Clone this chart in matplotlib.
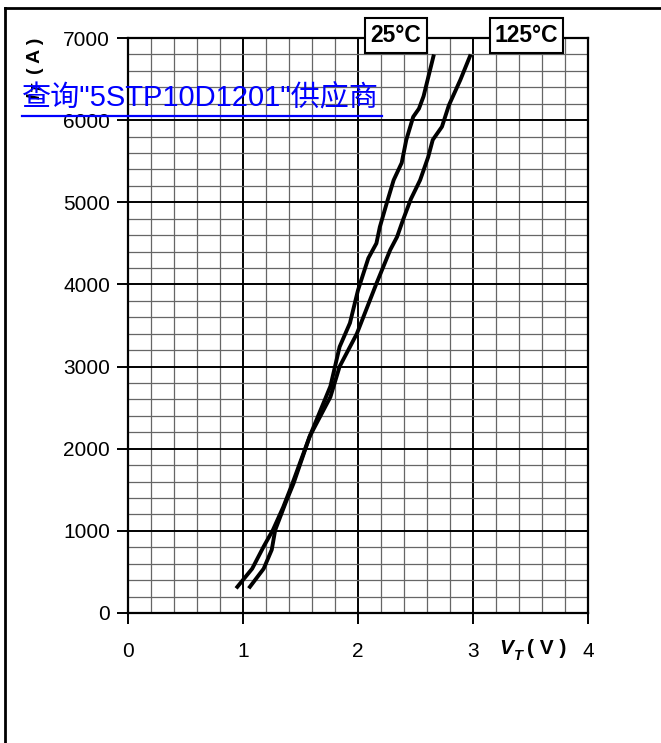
import numpy as np
import matplotlib.pyplot as plt
from matplotlib.patches import Rectangle
from matplotlib.lines import Line2D

plt.rcParams['font.family'] = ['Liberation Sans', 'Noto Sans CJK SC', 'DejaVu Sans']

# on-state voltage (V) vs current (A)
v_25 = [1.05, 1.18, 1.25, 1.28, 1.37, 1.44, 1.58, 1.76, 1.84, 1.93, 2.00, 2.09,
        2.16, 2.19, 2.25, 2.31, 2.35, 2.38, 2.42, 2.48, 2.53, 2.57, 2.66]
i_25 = [300, 540, 770, 1010, 1340, 1580, 2150, 2760, 3240, 3530, 3930, 4320,
        4500, 4700, 4990, 5270, 5390, 5480, 5760, 6040, 6140, 6290, 6800]
v_125 = [0.94, 1.08, 1.18, 1.26, 1.35, 1.42, 1.58, 1.76, 1.84, 1.99, 2.16, 2.28,
         2.34, 2.39, 2.46, 2.54, 2.61, 2.65, 2.73, 2.79, 2.89, 2.98]
i_125 = [300, 540, 810, 1010, 1290, 1540, 2150, 2630, 3000, 3400, 4010, 4420,
         4580, 4780, 5040, 5270, 5550, 5760, 5920, 6180, 6490, 6800]

x_ticks = [0, 1, 2, 3, 4]
y_ticks = [0, 1000, 2000, 3000, 4000, 5000, 6000, 7000]
labels = ['25°C', '125°C']
watermark = '查询"5STP10D1201"供应商'

W, H = 661, 743
fig = plt.figure(figsize=(W / 100, H / 100), dpi=100)
ax = fig.add_axes([128 / W, 1 - 613 / H, 460 / W, 575 / H])

# grid: minor every 0.2 V / 200 A, major every 1 V / 1000 A
for x in np.arange(0.2, 4.0, 0.2):
    major = abs(x - round(x)) < 1e-6
    ax.axvline(x, color='black' if major else '#666666', lw=1.4 if major else 0.9, zorder=1)
for y in np.arange(200, 7000, 200):
    major = abs(y % 1000) < 1e-6
    ax.axhline(y, color='black' if major else '#666666', lw=1.4 if major else 0.9, zorder=1)

ax.plot(v_25, i_25, color='black', lw=2.8, zorder=3, solid_capstyle='butt')
ax.plot(v_125, i_125, color='black', lw=2.8, zorder=3, solid_capstyle='butt')

ax.set_xlim(0, 4)
ax.set_ylim(0, 7000)
ax.set_xticks(x_ticks)
ax.set_yticks(y_ticks)
ax.set_xticklabels([str(t) for t in x_ticks])
ax.set_yticklabels([str(t) for t in y_ticks])
ax.tick_params(axis='both', direction='out', length=8, width=1.4, labelsize=15, color='black')
ax.tick_params(axis='x', pad=13)
ax.tick_params(axis='y', pad=5)
for s in ax.spines.values():
    s.set_linewidth(1.6)

# temperature labels in boxes
boxes = [(365, 427), (490, 563)]
for txt, (x0, x1) in zip(labels, boxes):
    fig.add_artist(Rectangle((x0 / W, 1 - 53 / H), (x1 - x0) / W, 35 / H,
                             transform=fig.transFigure, fc='white', ec='black',
                             lw=1.5, zorder=5))
    fig.text((x0 + x1) / 2 / W, 1 - 36 / H, txt, ha='center', va='center',
             fontsize=16.5, fontweight='bold', zorder=6)

# axis labels
fig.text(499 / W, 1 - 648 / H, 'V', ha='left', va='center', fontsize=15,
         fontweight='bold', style='italic')
fig.text(514 / W, 1 - 656 / H, 'T', ha='left', va='center', fontsize=10.5,
         fontweight='bold', style='italic')
fig.text(527 / W, 1 - 648 / H, '( V )', ha='left', va='center', fontsize=15,
         fontweight='bold')

fig.text(35 / W, 1 - 38 / H, '( A )', rotation=90, ha='center', va='top', fontsize=14,
         fontweight='bold')
fig.text(37 / W, 1 - 84 / H, 'T', rotation=90, ha='center', va='top', fontsize=10,
         fontweight='bold', style='italic')
fig.text(35 / W, 1 - 94 / H, 'I', rotation=90, ha='center', va='top', fontsize=14,
         fontweight='bold', style='italic')

# overlay link text
fig.text(22 / W, 1 - 105 / H, watermark, ha='left', va='baseline', fontsize=21,
         color='#0000ff', zorder=8)
fig.add_artist(Line2D([22 / W, 382 / W], [1 - 116 / H, 1 - 116 / H], color='#0000ff',
                      lw=1.6, zorder=8))

# outer frame
fig.add_artist(Line2D([5 / W, 5 / W], [0, 1 - 8 / H], color='black', lw=2))
fig.add_artist(Line2D([5 / W, 1], [1 - 8 / H, 1 - 8 / H], color='black', lw=2))

fig.savefig('out.png', dpi=100)
